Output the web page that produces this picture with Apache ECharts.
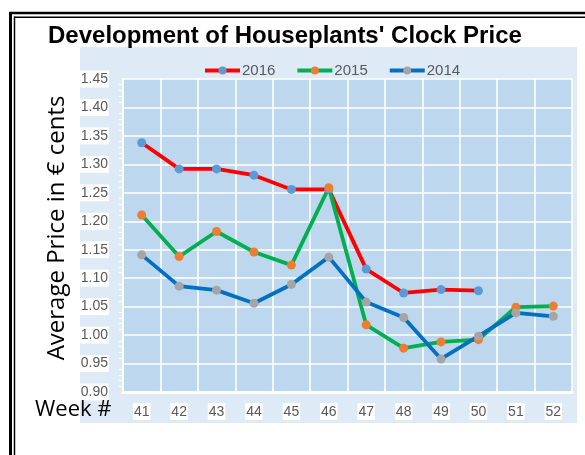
<!DOCTYPE html>
<html><head><meta charset="utf-8">
<script src="https://cdn.jsdelivr.net/npm/echarts@6/dist/echarts.min.js"></script>
<style>html,body{margin:0;padding:0;background:#fff}#c{width:585px;height:455px}</style>
</head><body><div id="c"></div>
<script>
var weeks = ['41','42','43','44','45','46','47','48','49','50','51','52'];
var s2016 = [1.338, 1.292, 1.292, 1.281, 1.256, 1.256, 1.116, 1.074, 1.080, 1.078, null, null];
var s2015 = [1.211, 1.138, 1.182, 1.146, 1.123, 1.259, 1.018, 0.977, 0.988, 0.992, 1.049, 1.051];
var s2014 = [1.141, 1.086, 1.079, 1.056, 1.089, 1.137, 1.058, 1.031, 0.958, 0.998, 1.039, 1.033];
var seriesNames = ['2016', '2015', '2014'];

var chart = echarts.init(document.getElementById('c'), null, {renderer: 'canvas'});
var labelStyle = {color: '#595959', fontSize: 14, fontFamily: 'Liberation Sans, Arial', backgroundColor: '#fff', padding: [2, 1, 1, 1]};
function mk(name, data, lc, mc) {
  return {
    name: name, type: 'line', data: data, smooth: false, connectNulls: false,
    symbol: 'circle', symbolSize: 9,
    lineStyle: {color: lc, width: 3.8},
    itemStyle: {color: mc},
    emphasis: {disabled: true}
  };
}
chart.setOption({
  animation: false,
  title: {
    text: "Development of Houseplants' Clock Price",
    left: 43, top: 19,
    textStyle: {fontFamily: 'Liberation Sans, Arial', fontWeight: 'bold', fontSize: 24, color: '#000'}
  },
  graphic: [
    {type: 'rect', z: -10, shape: {x: 80, y: 47, width: 497, height: 376}, style: {fill: '#DEEAF6'}},
    {type: 'line', shape: {x1: 10.5, y1: 12, x2: 10.5, y2: 455}, style: {stroke: '#000', lineWidth: 3}},
    {type: 'line', shape: {x1: 14.5, y1: 16.5, x2: 14.5, y2: 455}, style: {stroke: '#000', lineWidth: 1.5}},
    {type: 'line', shape: {x1: 9, y1: 13, x2: 585, y2: 13}, style: {stroke: '#000', lineWidth: 2.5}},
    {type: 'line', shape: {x1: 14, y1: 17.2, x2: 585, y2: 17.2}, style: {stroke: '#000', lineWidth: 1.5}},
    {type: 'text', x: 57, y: 228, rotation: Math.PI / 2,
     style: {text: 'Average Price in € cents', font: '24px "Open Sans"', fill: '#000', textAlign: 'center', textVerticalAlign: 'middle'}},
    {type: 'text', x: 35, y: 410, z: 100,
     style: {text: 'Week #', font: '22px "Open Sans"', fill: '#000', textAlign: 'left', textVerticalAlign: 'middle'}}
  ],
  legend: {
    data: seriesNames, top: 58, left: 198, itemWidth: 35, itemHeight: 10, itemGap: 20,
    lineStyle: {width: 4},
    textStyle: {color: '#595959', fontSize: 15, fontFamily: 'Liberation Sans, Arial', padding: [0, 0, 0, -3]}
  },
  grid: {left: 123, right: 13, top: 79, bottom: 63, show: true, backgroundColor: '#BDD7EE', borderWidth: 0},
  xAxis: {
    type: 'category', data: weeks, boundaryGap: true,
    axisLine: {lineStyle: {color: '#fff', width: 3}},
    axisTick: {show: true, inside: true, length: 4, lineStyle: {color: '#fff', width: 2}},
    splitLine: {show: true, lineStyle: {color: '#fff', width: 1.5}},
    axisLabel: Object.assign({margin: 11}, labelStyle)
  },
  yAxis: {
    type: 'value', min: 0.9, max: 1.45, interval: 0.05,
    axisLine: {show: true, lineStyle: {color: '#fff', width: 2}},
    axisTick: {show: false},
    minorTick: {show: true, splitNumber: 5, length: 4, lineStyle: {color: '#fff', width: 1}},
    splitLine: {show: true, lineStyle: {color: '#fff', width: 1.5}},
    axisLabel: Object.assign({margin: 14, formatter: function (v) { return v.toFixed(2); }}, labelStyle)
  },
  series: [
    mk('2016', s2016, '#FF0000', '#5B9BD5'),
    mk('2015', s2015, '#00B050', '#ED7D31'),
    mk('2014', s2014, '#0070C0', '#A5A5A5')
  ]
});
</script></body></html>
